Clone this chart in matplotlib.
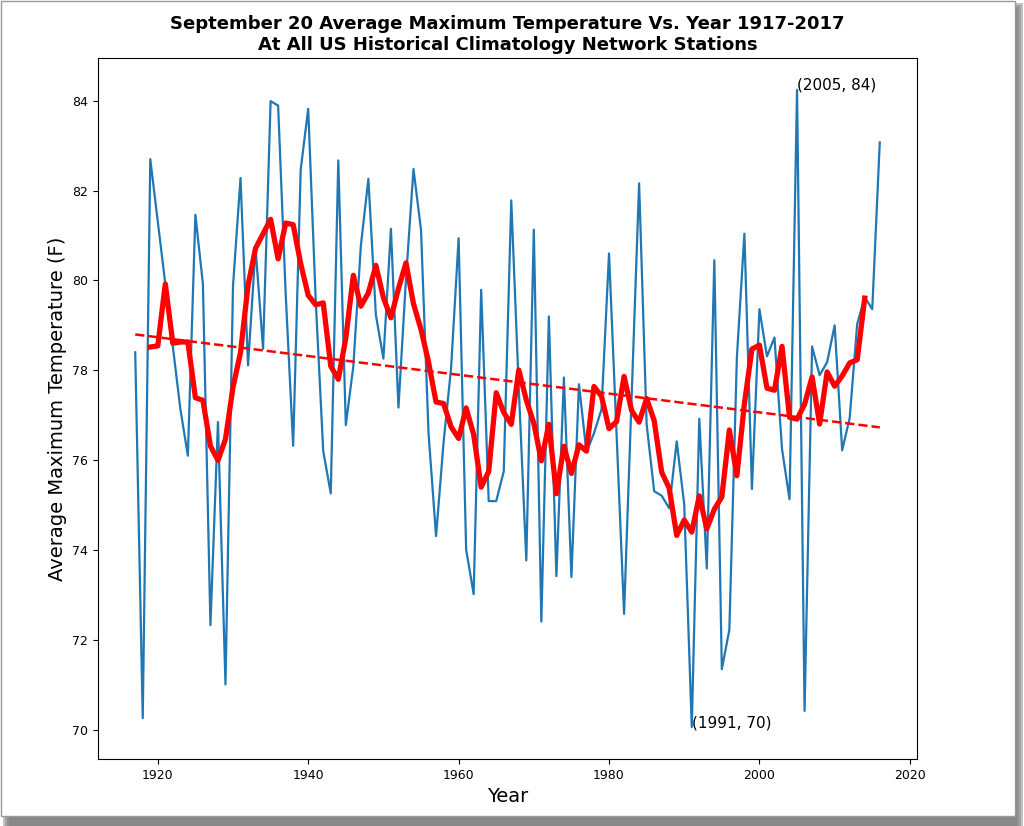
import numpy as np
import pandas as pd
import matplotlib
matplotlib.use('Agg')
import matplotlib.pyplot as plt
from matplotlib.patches import Rectangle

# --- data ---
years = list(range(1917, 2017))
temps = [
    78.40, 70.26, 82.70, 81.31, 79.92, 78.53, 77.14, 76.10, 81.46, 79.92,  # 1917-1926
    72.33, 76.85, 71.01, 79.87, 82.28, 78.11, 80.72, 78.48, 83.99, 83.89,  # 1927-1936
    79.72, 76.32, 82.46, 83.82, 79.55, 76.20, 75.26, 82.67, 76.78, 78.09,  # 1937-1946
    80.77, 82.26, 79.23, 78.26, 81.15, 77.17, 80.03, 82.48, 81.12, 76.60,  # 1947-1956
    74.31, 76.40, 78.05, 80.94, 74.01, 73.02, 79.79, 75.09, 75.09, 75.75,  # 1957-1966
    81.78, 77.60, 73.77, 81.13, 72.41, 79.20, 73.42, 77.84, 73.40, 77.69,  # 1967-1976
    76.18, 76.60, 77.13, 80.60, 76.60, 72.58, 77.38, 82.16, 76.80, 75.31,  # 1977-1986
    75.21, 74.93, 76.42, 75.01, 70.06, 76.92, 73.59, 80.45, 71.35, 72.23,  # 1987-1996
    78.29, 81.04, 75.36, 79.36, 78.31, 78.73, 76.25, 75.13, 84.24, 70.42,  # 1997-2006
    78.53, 77.89, 78.18, 79.00, 76.22, 76.94, 79.03, 79.63, 79.36, 83.07,  # 2007-2016
]
labelled_years = [2005, 1991]

df = pd.DataFrame({'year': years, 'temp': temps})
df['ma5'] = df['temp'].rolling(5, center=True).mean()  # 5 yr centred mean
slope, intercept = np.polyfit(df['year'], df['temp'], 1)
df['trend'] = slope * df['year'] + intercept

# --- figure ---
fig = plt.figure(figsize=(10.24, 8.26), dpi=100)
fig.subplots_adjust(left=98/1024, right=917/1024, top=1 - 58/826, bottom=1 - 759/826)

# screenshot style frame with a soft drop shadow
for i, a in enumerate([0.06, 0.10, 0.16, 0.24]):
    off = 9 - 2 * i
    fig.patches.append(Rectangle((off / 1024, 0), (1015 - off + 2 * i + 2) / 1024, (826 - off) / 826,
                                 transform=fig.transFigure, facecolor='black', alpha=a,
                                 edgecolor='none', zorder=-3))
fig.patches.append(Rectangle((0.5 / 1024, 10 / 826), 1014 / 1024, 815.5 / 826,
                             transform=fig.transFigure, facecolor='white',
                             edgecolor='#9a9a9a', linewidth=1.0, zorder=-2))

ax = fig.add_subplot(111)
ax.plot(df['year'], df['temp'], color='#1f77b4', linewidth=1.6)
ax.plot(df['year'], df['ma5'], color='red', linewidth=3.8)
ax.plot(df['year'], df['trend'], 'r--', linewidth=1.8)

for yr in labelled_years:
    val = df.loc[df['year'] == yr, 'temp'].values[0]
    ax.text(yr, val, f"({yr}, {val:.0f})", fontsize=11)

ax.set_title('September 20 Average Maximum Temperature Vs. Year 1917-2017\n'
             'At All US Historical Climatology Network Stations',
             fontsize=13, fontweight='bold')
ax.set_xlabel('Year', fontsize=14)
ax.set_ylabel('Average Maximum Temperature (F)', fontsize=14)
ax.tick_params(labelsize=9)

plt.savefig('out.png', dpi=100)
